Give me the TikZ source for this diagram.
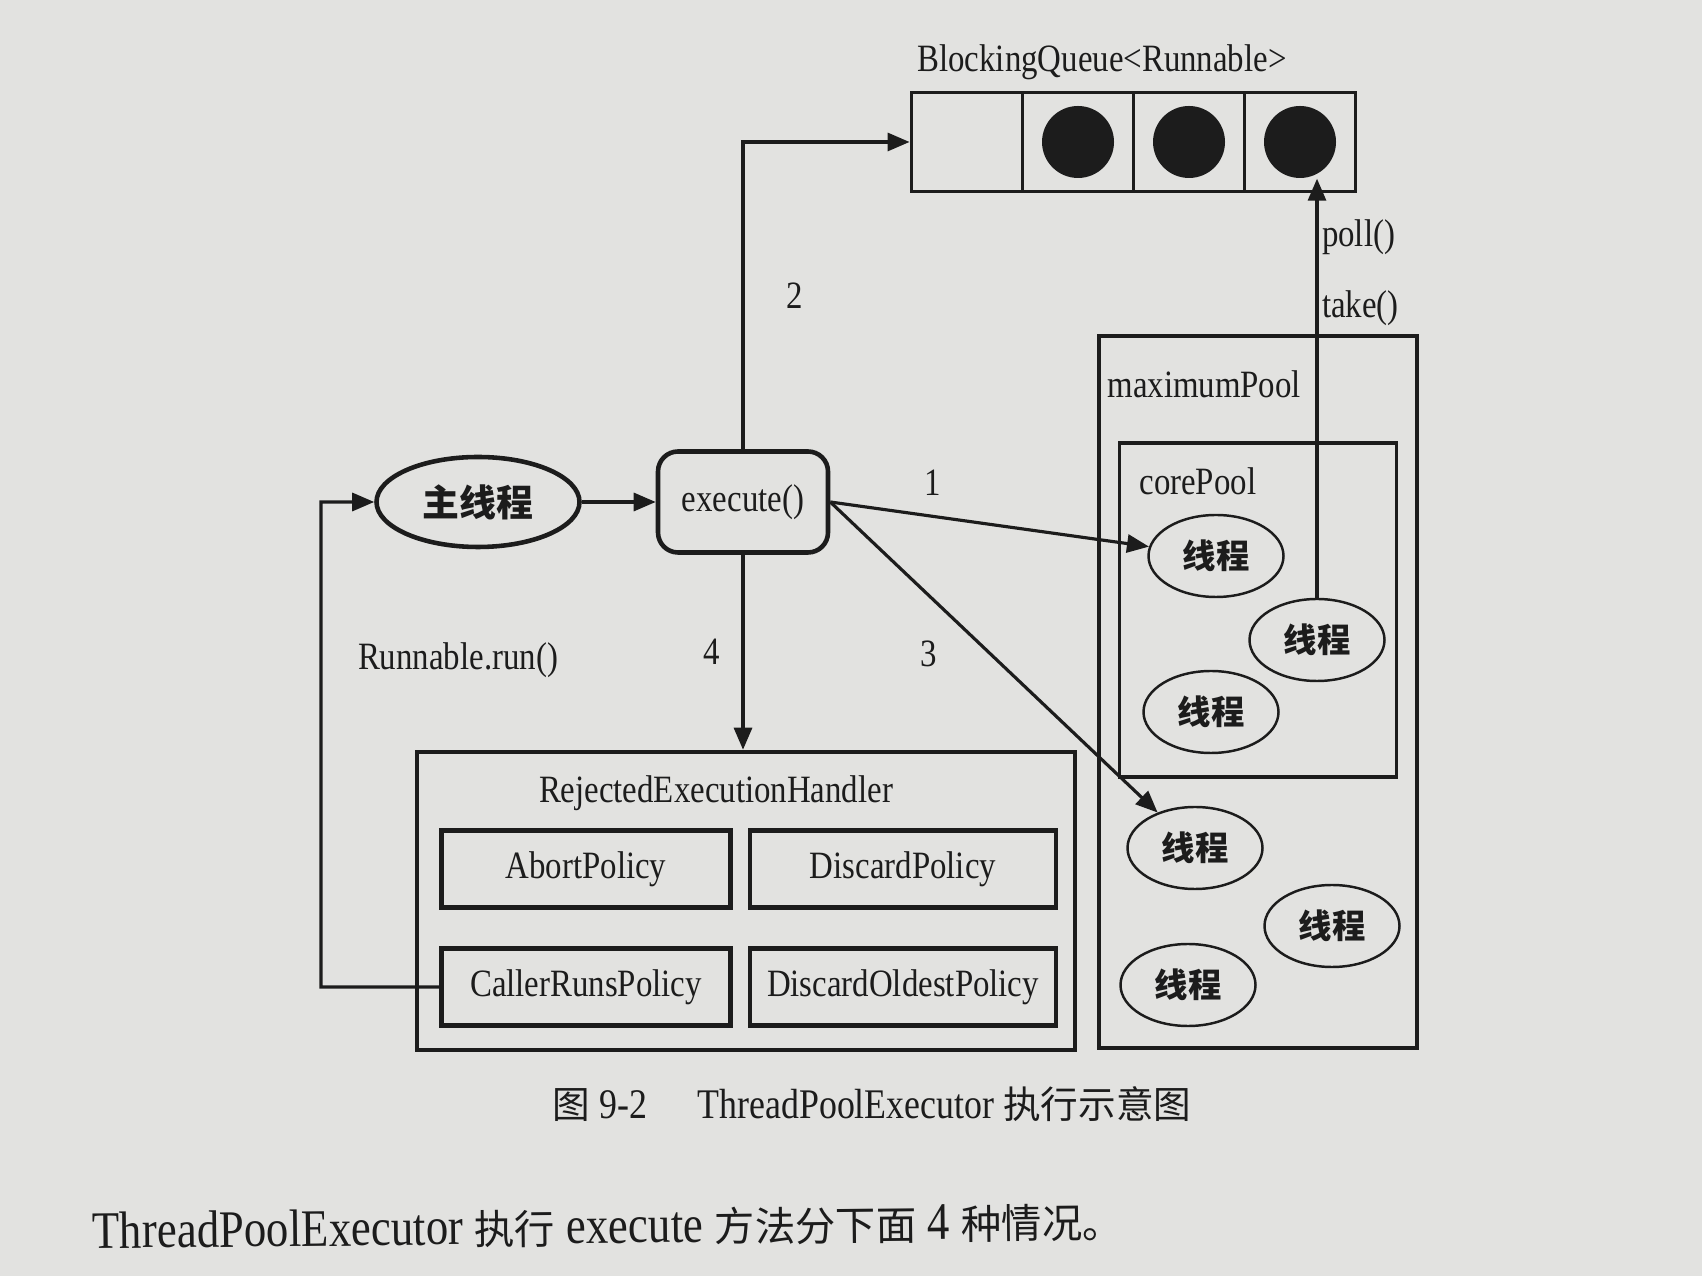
\documentclass[tikz,border=0pt]{standalone}
\usepackage{fontspec}
\setmainfont{Liberation Serif}[FakeStretch=0.85]
\newfontfamily\cjk{Noto Sans CJK SC}
\usetikzlibrary{arrows.meta,shapes.geometric,positioning}

\definecolor{paper}{RGB}{226,226,224}
\definecolor{ink}{RGB}{28,28,28}

\tikzset{
  cell/.style={draw=ink, line width=1.1pt, minimum width=1.11cm, minimum height=0.99cm, inner sep=0pt},
  dot/.style={circle, fill=ink, minimum size=0.72cm, inner sep=0pt},
  frame/.style={draw=ink, line width=1.1pt, inner sep=0pt},
  policy/.style={draw=ink, line width=1.2pt, minimum width=2.89cm, minimum height=0.77cm},
  thread/.style={ellipse, draw=ink, line width=0.7pt, minimum width=1.35cm, minimum height=0.82cm, inner sep=0pt, font=\cjk\bfseries\fontsize{9.5}{10}\selectfont},
  arr/.style={draw=ink, line width=0.9pt, -{Triangle[length=2.2mm, width=1.8mm]}},
}

\begin{document}
\begin{tikzpicture}[x=0.1mm, y=-0.1mm, font=\fontsize{11}{13}\selectfont, text=ink]
\fill[paper] (0,0) rectangle (1702,1276);
\useasboundingbox (0,0) rectangle (1702,1276);

%nodes

\node (exec)[draw=ink, line width=1.3pt, rounded corners=2mm, minimum width=1.7cm, minimum height=1.01cm] at (743,502) {execute()};
\node (main)[ellipse, draw=ink, line width=1.3pt, minimum width=2.03cm, minimum height=0.9cm, left of=exec, node distance=2.65cm, font=\cjk\bfseries\fontsize{10.5}{11}\selectfont] {主线程};

\foreach \i in {1,...,4}
  \node (q\i)[cell] at (856+111*\i,142) {};
\foreach \i in {2,3,4}
  \node (d\i)[dot] at (q\i) {};
\node (queue) at (1102,62) {BlockingQueue<Runnable>};

\node (maxpool)[frame, minimum width=3.18cm, minimum height=7.12cm] at (1258,692) {};
\node (maxname)[anchor=west] at (1095,384) {maximumPool};
\node (corepool)[frame, minimum width=2.77cm, minimum height=3.34cm] at (1258,610) {};
\node (corename)[anchor=west] at (1127,481) {corePool};

\node (t1)[thread] at (1216,556) {线程};
\node (t2)[thread] at (1317,640) {线程};
\node (t3)[thread] at (1211,712) {线程};
\node (m1)[thread] at (1195,848) {线程};
\node (m2)[thread] at (1332,926) {线程};
\node (m3)[thread] at (1188,985) {线程};

\node (reject)[frame, line width=1.3pt, minimum width=6.58cm, minimum height=2.98cm] at (746,901) {};
\node (rejname) at (716,793) {RejectedExecutionHandler};
\node (abort)[policy] at (586,869) {AbortPolicy};
\node (discard)[policy, minimum width=3.06cm, right of=abort, node distance=3.17cm] {DiscardPolicy};
\node (caller)[policy, below of=abort, node distance=1.18cm] {CallerRunsPolicy};
\node (oldest)[policy, minimum width=3.06cm, right of=caller, node distance=3.17cm] {DiscardOldestPolicy};

\node (runname) at (458,660) {Runnable.run()};

\node (caption)[font=\fontsize{12}{14}\selectfont] at (872,1104)
  {{\cjk\fontsize{10.7}{12}\selectfont 图} 9-2\hspace{1.2em}ThreadPoolExecutor {\cjk\fontsize{10.7}{12}\selectfont 执行示意图}};
\node (summary)[anchor=west, rotate=0.6, font=\fontsize{15}{17}\selectfont] at (80,1232)
  {ThreadPoolExecutor {\cjk\fontsize{11.5}{13}\selectfont 执行} execute {\cjk\fontsize{11.5}{13}\selectfont 方法分下面} 4 {\cjk\fontsize{11.5}{13}\selectfont 种情况。}};

%links
\draw[arr] (main) to (exec);
\draw[arr] (exec.north) |- node[pos=0.25, right=3mm] {2} (q1.west);
\draw[arr] (exec.east) to node[pos=0.32, above=0.7mm] {1} (t1);
\draw[arr] (exec.east) to node[pos=0.3, below=3.2mm] {3} (m1);
\draw[arr] (exec) to node[left=1mm] {4} (exec |- reject.north);
\draw[arr] (t2.north) to node[pos=0.69, right, inner sep=1pt] {take()} node[pos=0.86, right, inner sep=1pt] {poll()} (t2.north |- d4.south);
\coordinate (turn) at (321,987);
\draw[arr] (caller.west) -- (turn) |- (main.west);
\end{tikzpicture}
\end{document}
